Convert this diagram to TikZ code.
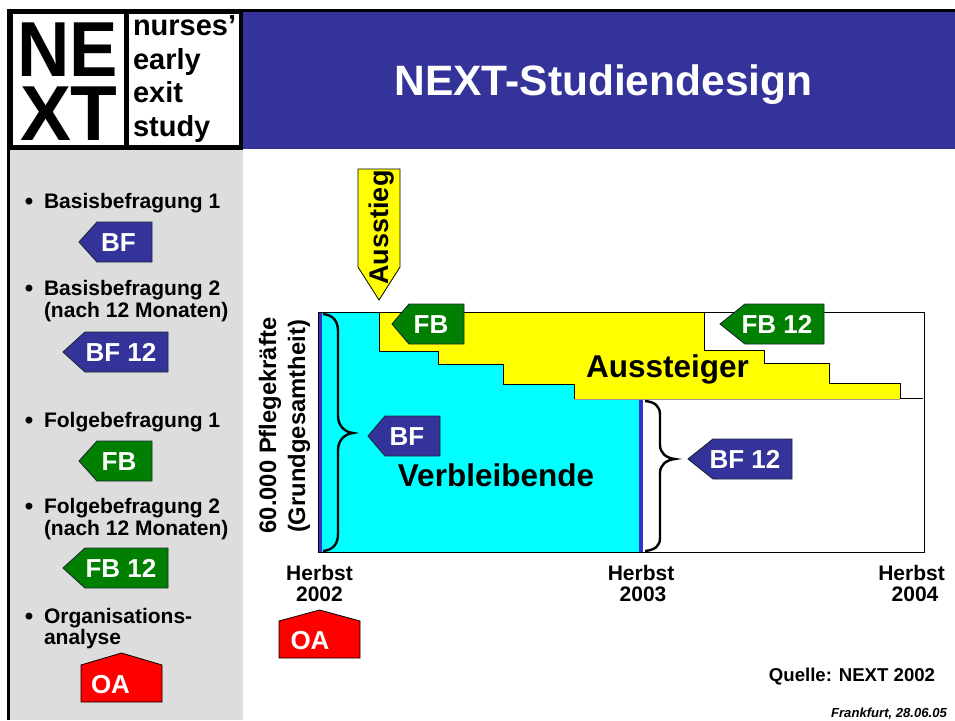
\documentclass[tikz,border=0pt]{standalone}
\usepackage{fontspec}
\setmainfont{Liberation Sans}
\definecolor{hblue}{HTML}{333399}
\definecolor{lineblue}{HTML}{3333CC}
\definecolor{tgreen}{HTML}{007F00}
\definecolor{sidegray}{HTML}{DDDDDD}
\definecolor{tagedge}{HTML}{1A2A3A}
\definecolor{purecyan}{HTML}{00FFFF}
\definecolor{pureyellow}{HTML}{FFFF00}
\definecolor{purered}{HTML}{FF0000}
\newcommand{\fsz}[1]{\fontsize{#1}{#1}\selectfont}
\tikzset{
  lbl/.style={inner sep=0pt,outer sep=0pt,font=\bfseries,text=black},
  taglabel/.style={inner sep=0pt,anchor=base,text=white,font=\fsz{26}\bfseries},
  tagshape/.style={draw=tagedge,line width=0.9pt,line join=miter},
  brace/.style={draw=black,line width=2.4pt,fill=none},
  stepline/.style={draw=black,line width=0.9pt},
}
% left-pointing tag: tip x, centre y, shoulder x, right x, name, colour, text, text x
\newcommand{\ltag}[8]{%
  \draw[tagshape,fill=#6] (#1,#2) -- (#3,#2-20) -- (#4,#2-20) -- (#4,#2+20) -- (#3,#2+20) -- cycle;
  \node[taglabel] (#5) at (#8,#2+9) {#7};
}
% house-shaped tag: left, right, apex y, shoulder y, bottom y, name, text x
\newcommand{\htag}[7]{%
  \draw[draw=black,line width=0.8pt,fill=purered] (#1,#5) -- (#1,#4) -- ({(#1+#2)/2},#3) -- (#2,#4) -- (#2,#5) -- cycle;
  \node[taglabel] (#6) at (#7,#5-9) {OA};
}
\begin{document}
\begin{tikzpicture}[x=1pt,y=-1pt]
\useasboundingbox (0,0) rectangle (955,720);
\fill[white] (0,0) rectangle (955,720);
% header and sidebar
\fill[black] (243,9) rectangle (955,12);
\fill[hblue] (243,12) rectangle (955,149);
\fill[sidegray] (10,149) rectangle (243,720);
\fill[black] (7,9) rectangle (10,720);
% logo
\fill[black] (7,9) rectangle (243,150);
\fill[white] (13,14) rectangle (123.5,145);
\fill[white] (129,14) rectangle (239,145);
\node[lbl,anchor=base west,xscale=0.93,font=\fsz{78}\bfseries] (logoNE) at (17,76) {NE};
\node[lbl,anchor=base west,xscale=0.98,font=\fsz{78}\bfseries] (logoXT) at (20,140) {XT};
\node[lbl,anchor=base west,font=\fsz{29}\bfseries] (logoa) at (133,35) {nurses’};
\node[lbl,anchor=base west,font=\fsz{29}\bfseries] (logob) at (133,69) {early};
\node[lbl,anchor=base west,font=\fsz{29}\bfseries] (logoc) at (133,102) {exit};
\node[lbl,anchor=base west,font=\fsz{29}\bfseries] (logod) at (133,136) {study};
\node[lbl,anchor=base,text=white,font=\fsz{42.5}\bfseries] (title) at (603.5,95) {NEXT-Studiendesign};
% sidebar entries
\foreach \nm/\yy/\tx in {s1/208/Basisbefragung 1,s2/295/Basisbefragung 2,s3/317/(nach 12 Monaten),s4/427/Folgebefragung 1,s5/513/Folgebefragung 2,s6/535/(nach 12 Monaten),s7/623/Organisations-,s8/644/analyse}{
  \node[lbl,anchor=base west,font=\fsz{21}\bfseries] (\nm) at (44,\yy) {\tx};
}
\foreach \nm/\yy in {b1/209,b2/296,b4/428,b5/514,b7/624}{
  \node[lbl,anchor=base,font=\fsz{24}\bfseries] (\nm) at (29,\yy) {•};
}
\ltag{79}{242}{97}{152}{tagA}{hblue}{BF}{118.5}
\ltag{63}{352}{85}{168}{tagB}{hblue}{BF 12}{121}
\ltag{79}{461}{97}{152}{tagC}{tgreen}{FB}{119}
\ltag{63}{568}{85}{168}{tagD}{tgreen}{FB 12}{121}
\htag{81}{162}{653}{665}{702}{tagE}{110.5}
% chart
\draw[draw=black,line width=1pt,fill=white] (318,312) rectangle (924,552);
\draw[stepline,fill=purecyan] (318,312) -- (379,312) -- (379,351) -- (438,351) -- (438,364) -- (503,364) -- (503,384) -- (574,384) -- (574,399) -- (640,399) -- (640,552) -- (318,552) -- cycle;
\fill[pureyellow] (379,312) -- (704,312) -- (704,350) -- (764,350) -- (764,363) -- (830,363) -- (830,383) -- (901,383) -- (901,399) -- (574,399) -- (574,384) -- (503,384) -- (503,364) -- (438,364) -- (438,351) -- (379,351) -- cycle;
\draw[stepline] (379,312) -- (379,351) -- (438,351) -- (438,364) -- (503,364) -- (503,384) -- (574,384) -- (574,399);
\draw[stepline] (379,312) -- (704,312) -- (704,350) -- (764,350) -- (764,363) -- (829.5,363) -- (829.5,383) -- (900,383) -- (900,398) -- (923,398);
\draw[black!40,line width=0.5pt] (574,399.3) -- (900,399.3);
\fill[lineblue] (318.5,313) rectangle (321.5,552);
\fill[lineblue] (639,399.5) rectangle (642.5,552);
\draw[brace] (323,314) .. controls (333,315) and (338,321) .. (338,331) -- (338,416) .. controls (338,425) and (344,432) .. (353,433) .. controls (344,434) and (338,441) .. (338,450) -- (338,534) .. controls (338,544) and (333,550) .. (323,551);
\draw[brace] (645,401) .. controls (655,402) and (660,406) .. (660,415) -- (660,445) .. controls (660,453) and (666,458) .. (675,459) .. controls (666,460) and (660,465) .. (660,473) -- (660,538) .. controls (660,546) and (655,550) .. (645,551);
\ltag{392}{324}{409}{464}{tagF}{tgreen}{FB}{431}
\ltag{720}{324}{745}{824}{tagG}{tgreen}{FB 12}{777}
\ltag{368}{436}{385}{440}{tagH}{hblue}{BF}{407}
\ltag{688}{459}{713}{792}{tagI}{hblue}{BF 12}{745}
\node[lbl,anchor=base,font=\fsz{31.5}\bfseries] (aussteiger) at (667.5,377) {Aussteiger};
\node[lbl,anchor=base,font=\fsz{31.5}\bfseries] (verbl) at (496,486) {Verbleibende};
% exit arrow
\draw[draw=black,line width=0.8pt,fill=pureyellow] (358,169) -- (400,169) -- (400,267) -- (379,300) -- (358,267) -- cycle;
\node[lbl,rotate=90,anchor=base,font=\fsz{27}\bfseries] (ausstieg) at (388,227.5) {Ausstieg};
% axis texts
\node[lbl,rotate=90,anchor=base,font=\fsz{23.8}\bfseries] (yA) at (276,425.5) {60.000 Pflegekräfte};
\node[lbl,rotate=90,anchor=base,font=\fsz{23.8}\bfseries] (yB) at (305,426.5) {(Grundgesamtheit)};
\foreach \nm/\xx/\yy/\tx in {h1/319.5/580/Herbst,h2/319.5/601/2002,h3/641/580/Herbst,h4/643/601/2003,h5/911.5/580/Herbst,h6/915/601/2004}{
  \node[lbl,anchor=base,font=\fsz{21}\bfseries] (\nm) at (\xx,\yy) {\tx};
}
\htag{279}{360}{610}{621}{658}{tagJ}{310}
\node[lbl,anchor=base,font=\fsz{18.6}\bfseries] (quelle) at (852,681) {Quelle: NEXT 2002};
\node[lbl,anchor=base,font=\fsz{13.1}\bfseries\itshape] (datum) at (889,717.5) {Frankfurt, 28.06.05};
\end{tikzpicture}
\end{document}
